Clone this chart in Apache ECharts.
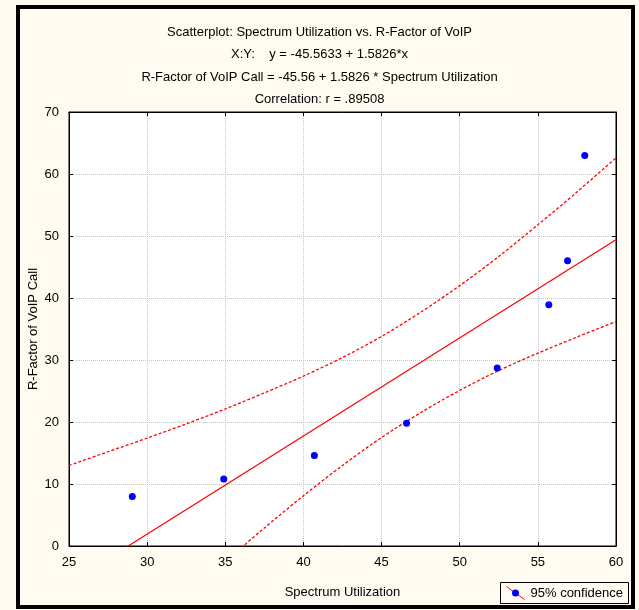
<!DOCTYPE html>
<html>
<head>
<meta charset="utf-8">
<script src="https://cdn.jsdelivr.net/npm/echarts@6/dist/echarts.min.js"></script>
<style>
  html, body { margin: 0; padding: 0; background: #fff; }
  #chart-container { width: 639px; height: 610px; }
</style>
</head>
<body>
<div id="chart-container"></div>
<script>
// 散点数据
const utilization = [29.05, 34.9, 40.7, 46.6, 52.4, 55.7, 56.9, 58.0];
const rFactor = [8.0, 10.8, 14.6, 19.8, 28.7, 38.9, 46.0, 63.0];
// 回归线端点
const fitX = [25, 60];
const fitY = [-6.0, 49.4];
// 95% 置信带
const bandX = [25, 27.5, 30, 32.5, 35, 37.5, 40, 42.5, 45, 47.5, 50, 52.5, 55, 57.5, 60];
const upperBand = [13.0, 15.2, 17.4, 19.7, 22.1, 24.7, 27.4, 30.4, 33.8, 37.7, 42.0, 46.7, 51.8, 57.1, 62.6];
const lowerBand = [-25.0, -19.3, -13.6, -8.0, -2.5, 2.9, 8.1, 13.0, 17.5, 21.5, 25.1, 28.3, 31.1, 33.7, 36.2];
const xTicks = [25, 30, 35, 40, 45, 50, 55, 60];
const yTicks = [0, 10, 20, 30, 40, 50, 60, 70];

const titleLines = [
    "Scatterplot: Spectrum Utilization vs. R-Factor of VoIP",
    "X:Y:    y = -45.5633 + 1.5826*x",
    "R-Factor of VoIP Call = -45.56 + 1.5826 * Spectrum Utilization",
    "Correlation: r = .89508"
];

const font = '"Liberation Sans Narrow", "Liberation Sans", Arial, sans-serif';
const zip = (xs, ys) => xs.map((x, i) => [x, ys[i]]);

const chart = echarts.init(document.getElementById("chart-container"));

const xBase = {
    type: "value",
    min: xTicks[0],
    max: xTicks[xTicks.length - 1],
    interval: 5,
    axisLine: { show: true, onZero: false, lineStyle: { color: "#000", width: 1 } },
    axisTick: { show: true, inside: true, length: 4, lineStyle: { color: "#000" } }
};
const yBase = {
    type: "value",
    min: yTicks[0],
    max: yTicks[yTicks.length - 1],
    interval: 10,
    axisLine: { show: true, onZero: false, lineStyle: { color: "#000", width: 1 } },
    axisTick: { show: true, inside: true, length: 4, lineStyle: { color: "#000" } }
};

const options = {
    backgroundColor: "#FFFBF0",
    animation: false,
    title: {
        text: titleLines.join("\n"),
        left: "center",
        top: 16,
        textStyle: {
            fontFamily: font,
            fontSize: 13,
            fontWeight: "normal",
            color: "#000",
            lineHeight: 22.5
        }
    },
    grid: {
        left: 69,
        right: 23,
        top: 112,
        bottom: 64,
        show: true,
        backgroundColor: "#fff",
        borderColor: "#000",
        borderWidth: 1
    },
    xAxis: [
        Object.assign({}, xBase, {
            position: "bottom",
            name: "Spectrum Utilization",
            nameLocation: "middle",
            nameGap: 40,
            nameTextStyle: { fontFamily: font, fontSize: 13, color: "#000" },
            axisLabel: { fontFamily: font, fontSize: 13, color: "#000", margin: 10 },
            splitLine: { show: true, lineStyle: { color: "#c4c4c4", type: "dotted", width: 1 } }
        }),
        Object.assign({}, xBase, {
            position: "top",
            axisLabel: { show: false },
            splitLine: { show: false }
        })
    ],
    yAxis: [
        Object.assign({}, yBase, {
            position: "left",
            name: "R-Factor of VoIP Call",
            nameLocation: "middle",
            nameGap: 29,
            nameMoveOverlap: false,
            nameTextStyle: { fontFamily: font, fontSize: 13, color: "#000" },
            axisLabel: { fontFamily: font, fontSize: 13, color: "#000", margin: 10 },
            splitLine: { show: true, lineStyle: { color: "#c4c4c4", type: "dotted", width: 1 } }
        }),
        Object.assign({}, yBase, {
            position: "right",
            axisLabel: { show: false },
            splitLine: { show: false }
        })
    ],
    series: [
        {
            name: "fit",
            type: "line",
            data: zip(fitX, fitY),
            showSymbol: false,
            clip: true,
            lineStyle: { color: "#ff0000", width: 1.2 },
            z: 3
        },
        {
            name: "upper",
            type: "line",
            data: zip(bandX, upperBand),
            showSymbol: false,
            smooth: 0.3,
            clip: true,
            lineStyle: { color: "#ff0000", width: 1.3, type: [3, 2] },
            z: 3
        },
        {
            name: "lower",
            type: "line",
            data: zip(bandX, lowerBand),
            showSymbol: false,
            smooth: 0.3,
            clip: true,
            lineStyle: { color: "#ff0000", width: 1.3, type: [3, 2] },
            z: 3
        },
        {
            name: "95% confidence",
            type: "scatter",
            data: zip(utilization, rFactor),
            symbol: "circle",
            symbolSize: 7,
            itemStyle: { color: "#0000ff", opacity: 1 },
            z: 4
        }
    ],
    graphic: [
        // 外框
        {
            type: "rect",
            shape: { x: 18, y: 7, width: 615, height: 600 },
            style: { fill: null, stroke: "#000", lineWidth: 4 },
            silent: true
        },
        // 图例
        {
            type: "group",
            left: 500,
            top: 582,
            children: [
                {
                    type: "rect",
                    shape: { x: 0, y: 0, width: 128, height: 21 },
                    style: { fill: "#FFFBF0", stroke: "#000", lineWidth: 1 }
                },
                {
                    type: "line",
                    shape: { x1: 6, y1: 4, x2: 24, y2: 17 },
                    style: { stroke: "#ff0000", lineWidth: 1 }
                },
                {
                    type: "circle",
                    shape: { cx: 15, cy: 10.5, r: 3.5 },
                    style: { fill: "#0000ff" }
                },
                {
                    type: "text",
                    x: 30,
                    y: 11,
                    style: {
                        text: "95% confidence",
                        fontFamily: font,
                        fontSize: 13,
                        fill: "#000",
                        verticalAlign: "middle"
                    }
                }
            ]
        }
    ]
};

chart.setOption(options);
</script>
</body>
</html>
